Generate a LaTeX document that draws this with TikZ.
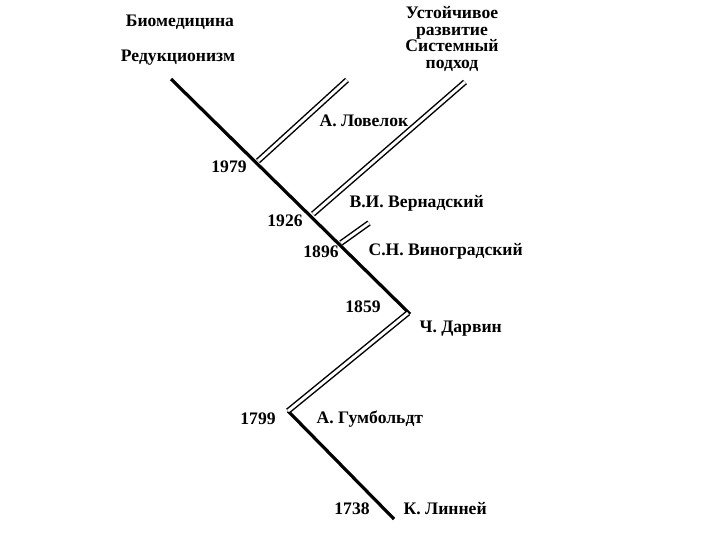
\documentclass[tikz,border=0pt]{standalone}
\usepackage{fontspec}
\setmainfont{Liberation Serif}
\usetikzlibrary{calc}
\tikzset{
  trunk/.style={line width=2.4pt},
  branch/.style={double,double distance=2.2pt,line width=1.1pt},
  lbl/.style={font=\bfseries\fontsize{13.2}{12.5}\selectfont,inner sep=1pt}}

\begin{document}
\begin{tikzpicture}[x=0.75pt,y=-0.75pt]
\useasboundingbox (0,0) rectangle (720,540);
\coordinate (top) at (171,79);
\coordinate (lov) at (258,161);
\coordinate (ver) at (313,214);
\coordinate (vin) at (341,243);
\coordinate (dar) at (410,314);
\coordinate (hum) at (288,411);
\coordinate (lin) at (394,519);
\coordinate (lovE) at (347,80);
\coordinate (verE) at (465,82);
\coordinate (vinE) at (369,223);
\draw[trunk] (top) -- (dar);
\draw[trunk] (hum) -- (lin);
\draw[branch] ($(dar)+(-2,-1)$) -- (hum);
\draw[branch] (lov) -- (lovE);
\draw[branch] (ver) -- (verE);
\draw[branch] (vin) -- (vinE);
\node[lbl] (bio) at (180,22) {Биомедицина};
\node[lbl] (red) at (178,58) {Редукционизм};
\node[lbl,align=center] (sys) at (452,39)
  {Устойчивое\\развитие\\Системный\\подход};
\node[lbl,anchor=west] (nlov) at (318,121) {А. Ловелок};
\node[lbl] (y1979) at (229,167) {1979};
\node[lbl,anchor=west] (nver) at (348,203) {В.И. Вернадский};
\node[lbl] (y1926) at (285,221) {1926};
\node[lbl] (y1896) at (321,252) {1896};
\node[lbl,anchor=west] (nvin) at (367,251) {С.Н. Виноградский};
\node[lbl] (y1859) at (363,307) {1859};
\node[lbl,anchor=west] (ndar) at (418,329) {Ч. Дарвин};
\node[lbl] (y1799) at (258,419) {1799};
\node[lbl,anchor=west] (nhum) at (315,419) {А. Гумбольдт};
\node[lbl] (y1738) at (352,509) {1738};
\node[lbl,anchor=west] (nlin) at (402,509) {К. Линней};
\end{tikzpicture}
\end{document}
